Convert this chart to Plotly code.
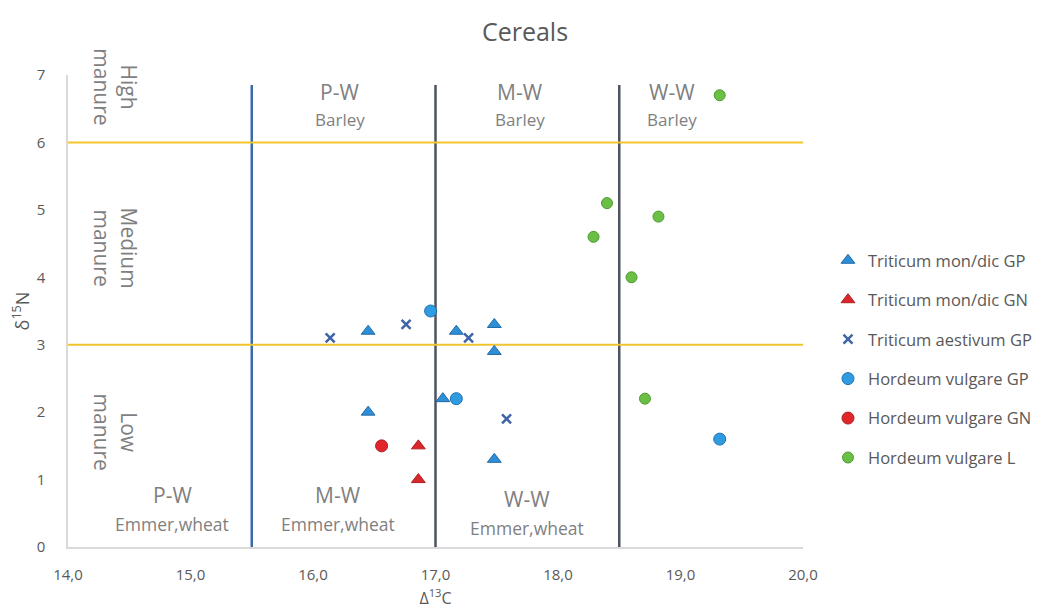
import plotly.graph_objects as go

# Data
tmd_gp_x = [16.45, 16.45, 17.17, 17.48, 17.48, 17.06, 17.48]
tmd_gp_y = [3.2, 2.0, 3.2, 3.3, 2.9, 2.2, 1.3]
tmd_gn_x = [16.86, 16.86]
tmd_gn_y = [1.5, 1.0]
tae_gp_x = [16.14, 16.76, 17.27, 17.58]
tae_gp_y = [3.1, 3.3, 3.1, 1.9]
hv_gp_x = [16.96, 17.17, 19.32]
hv_gp_y = [3.5, 2.2, 1.6]
hv_gn_x = [16.56]
hv_gn_y = [1.5]
hv_l_x = [19.32, 18.4, 18.82, 18.29, 18.6, 18.71]
hv_l_y = [6.7, 5.1, 4.9, 4.6, 4.0, 2.2]

vlines_x = [15.5, 17.0, 18.5]
vline_top = 6.85
hlines_y = [6, 3]

x_ticks = [14, 15, 16, 17, 18, 19, 20]
y_ticks = [0, 1, 2, 3, 4, 5, 6, 7]

FONT = "Open Sans"
GRAY = "#595959"
LGRAY = "#7f7f7f"

fig = go.Figure()

# reference lines
vcols = ["#3b6aa8", "#4d5361", "#4d5361"]
for xv, c in zip(vlines_x, vcols):
    fig.add_trace(go.Scatter(x=[xv, xv], y=[0, vline_top], mode="lines",
                             line=dict(color=c, width=2.5), showlegend=False,
                             hoverinfo="skip"))
for yv in hlines_y:
    fig.add_trace(go.Scatter(x=[14, 20.05], y=[yv, yv], mode="lines",
                             line=dict(color="#f2c52e", width=2), showlegend=False,
                             hoverinfo="skip", cliponaxis=False))

series = [
    ("Triticum mon/dic GP", tmd_gp_x, tmd_gp_y, "triangle-up", "#2f8fd6", "#1f6aa8", 12),
    ("Triticum mon/dic GN", tmd_gn_x, tmd_gn_y, "triangle-up", "#d9262b", "#b01e22", 12),
    ("Triticum aestivum GP", tae_gp_x, tae_gp_y, "x-thin", "#3f64a8", "#3f64a8", 9),
    ("Hordeum vulgare GP", hv_gp_x, hv_gp_y, "circle", "#2f9be0", "#1f72b0", 12),
    ("Hordeum vulgare GN", hv_gn_x, hv_gn_y, "circle", "#e0262b", "#b01e22", 12),
    ("Hordeum vulgare L", hv_l_x, hv_l_y, "circle", "#6cbf45", "#4c9a30", 11),
]
for i, (name, xs, ys, sym, fc, lc, sz) in enumerate(series):
    if sym == "x-thin":
        marker = dict(symbol=sym, size=sz, line=dict(color=lc, width=2.5), color=fc)
    else:
        marker = dict(symbol=sym, size=sz, color=fc, line=dict(color=lc, width=1))
    fig.add_trace(go.Scatter(x=xs, y=ys, mode="markers", name=name,
                             marker=marker, legendgroup=f"g{i}"))

ann = []
def txt(x, y, t, size, color=GRAY, angle=0):
    ann.append(dict(x=x, y=y, xref="x", yref="y", text=t, showarrow=False,
                    textangle=angle, font=dict(family=FONT, size=size, color=color)))

txt(14.39, 6.82, "High<br>manure", 21, LGRAY, 90)
txt(14.39, 4.43, "Medium<br>manure", 21, LGRAY, 90)
txt(14.39, 1.7, "Low<br>manure", 21, LGRAY, 90)

top_labels = [(16.22, "P-W"), (17.69, "M-W"), (18.93, "W-W")]
for xv, t in top_labels:
    txt(xv, 6.75, t, 21, LGRAY)
    txt(xv, 6.34, "Barley", 17, LGRAY)
bot_labels = [(14.85, 0.77, 0.34, "P-W"), (16.2, 0.77, 0.34, "M-W"), (17.75, 0.71, 0.28, "W-W")]
for xv, y1, y2, t in bot_labels:
    txt(xv, y1, t, 21, LGRAY)
    txt(xv, y2, "Emmer,wheat", 17.5, LGRAY)

fig.update_layout(
    width=1034, height=604,
    paper_bgcolor="white", plot_bgcolor="white",
    margin=dict(l=60, r=239, t=67, b=65, autoexpand=False),
    separators=",.",
    title=dict(text="Cereals", x=0.5, xanchor="center", y=0.96, yanchor="middle",
               font=dict(family=FONT, size=25, color=GRAY)),
    font=dict(family=FONT, color=GRAY),
    annotations=ann,
    legend=dict(x=1.034, xanchor="left", y=0.644, yanchor="top",
                font=dict(family=FONT, size=16.5, color=GRAY),
                tracegroupgap=15, itemwidth=30, bgcolor="rgba(0,0,0,0)"),
    showlegend=True,
)
fig.update_xaxes(range=[14, 20], tickvals=x_ticks, tickformat=".1f", automargin=False,
                 showgrid=False, zeroline=False, showline=True, linecolor="#d9d9d9",
                 linewidth=1.5, ticks="", ticklabelstandoff=13,
                 tickfont=dict(family=FONT, size=15, color=GRAY),
                 title=dict(text="Δ<sup>13</sup>C", font=dict(family=FONT, size=16, color=GRAY),
                            standoff=10))
fig.update_yaxes(range=[0, 7], tickvals=y_ticks, showgrid=False, zeroline=False, automargin=False,
                 showline=True, linecolor="#d9d9d9", linewidth=1.5, ticks="",
                 ticklabelstandoff=18,
                 tickfont=dict(family=FONT, size=15, color=GRAY),
                 title=dict(text="δ<sup>15</sup>N", font=dict(family=FONT, size=18, color=GRAY),
                            standoff=8))

fig.write_html("out.html")
